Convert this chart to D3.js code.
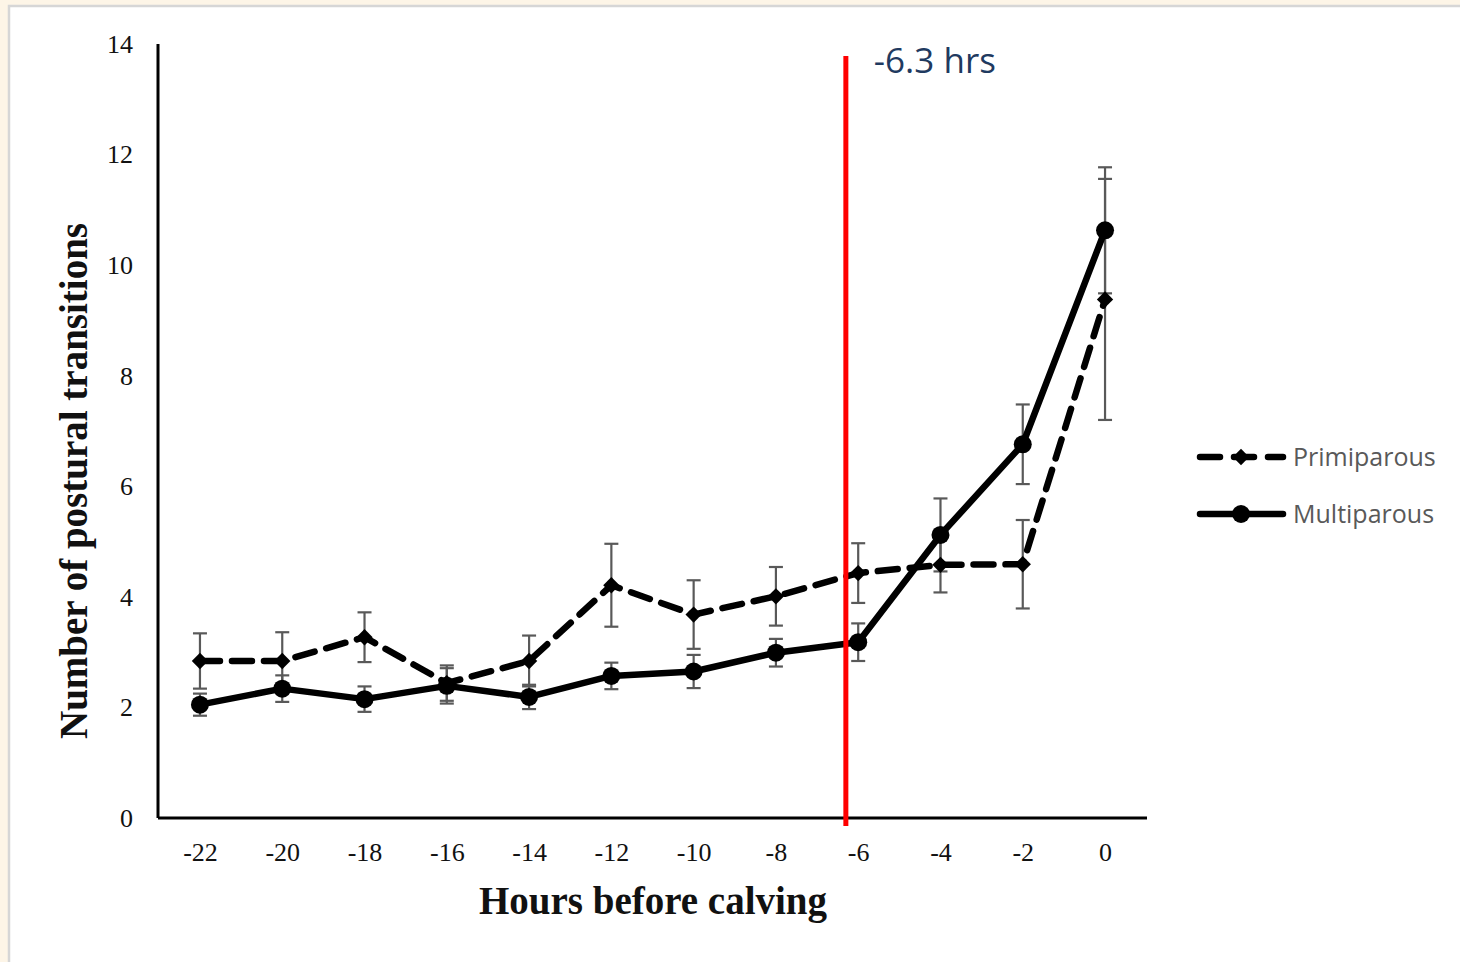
<!DOCTYPE html>
<html>
<head>
<meta charset="utf-8">
<script src="https://cdn.jsdelivr.net/npm/d3@7"></script>
<style>
  html, body { margin: 0; padding: 0; background: #fdf5e7; }
  svg { display: block; }
  .tick text { font-family: "Liberation Serif", "Times New Roman", serif; font-size: 26px; fill: #111; }
  .axisTitle { font-family: "Liberation Serif", "Times New Roman", serif; font-weight: bold; fill: #111; }
  .legendText { font-family: "Open Sans", "Noto Sans", sans-serif; font-size: 25px; fill: #595959; }
</style>
</head>
<body>
<div id="chart"></div>
<script>
// data
var hours = [-22, -20, -18, -16, -14, -12, -10, -8, -6, -4, -2, 0];
var primiparous = [2.84, 2.84, 3.27, 2.44, 2.84, 4.21, 3.68, 4.01, 4.43, 4.58, 4.59, 9.38];
var primiparousErr = [0.50, 0.52, 0.45, 0.32, 0.46, 0.75, 0.62, 0.53, 0.54, 0.50, 0.80, 2.18];
var multiparous = [2.05, 2.34, 2.15, 2.39, 2.19, 2.57, 2.65, 2.99, 3.18, 5.12, 6.76, 10.63];
var multiparousErr = [0.20, 0.24, 0.23, 0.32, 0.22, 0.24, 0.30, 0.25, 0.34, 0.66, 0.72, 1.14];
var yTicks = [0, 2, 4, 6, 8, 10, 12, 14];
var cutoff = -6.3;

var svgWidth = 1460;
var svgHeight = 962;

var svg = d3.select("#chart")
  .append("svg")
  .attr("width", svgWidth)
  .attr("height", svgHeight);

// white panel with a thin grey frame
svg.append("rect")
  .attr("x", 9).attr("y", 6)
  .attr("width", svgWidth).attr("height", svgHeight)
  .attr("fill", "#fff")
  .attr("stroke", "#d6d6d6")
  .attr("stroke-width", 2.5);

var x = d3.scaleLinear().domain([-23.02, 1.02]).range([158, 1147]);
var y = d3.scaleLinear().domain([0, 14]).range([818, 44]);

// axes (no tick marks, only labels)
var xAxis = svg.append("g")
  .attr("transform", "translate(0,818)")
  .call(d3.axisBottom(x).tickValues(hours).tickSize(0).tickPadding(20).tickFormat(d3.format("d")));
xAxis.select(".domain").attr("stroke", "#000").attr("stroke-width", 3).attr("d", "M158,0H1147");
xAxis.selectAll(".tick text").attr("dy", "0.9em").text(d => d < 0 ? "-" + Math.abs(d) : d);

var yAxis = svg.append("g")
  .attr("transform", "translate(158,0)")
  .call(d3.axisLeft(y).tickValues(yTicks).tickSize(0).tickPadding(25));
yAxis.select(".domain").attr("stroke", "#000").attr("stroke-width", 3).attr("d", "M0,44V818");

var lineGen = d3.line()
  .x((d, i) => x(hours[i]))
  .y(d => y(d));

// error bars
function errorBars(values, errs) {
  var g = svg.append("g").attr("stroke", "#595959").attr("stroke-width", 2.2).attr("fill", "none");
  values.forEach(function(v, i) {
    var cx = x(hours[i]);
    g.append("line").attr("x1", cx).attr("x2", cx).attr("y1", y(v - errs[i])).attr("y2", y(v + errs[i]));
    [v - errs[i], v + errs[i]].forEach(function(e) {
      g.append("line").attr("x1", cx - 7).attr("x2", cx + 7).attr("y1", y(e)).attr("y2", y(e));
    });
  });
}
errorBars(primiparous, primiparousErr);
errorBars(multiparous, multiparousErr);

// primiparous: dashed with diamonds
svg.append("path")
  .datum(primiparous)
  .attr("d", lineGen)
  .attr("fill", "none")
  .attr("stroke", "#000")
  .attr("stroke-width", 6.5)
  .attr("stroke-dasharray", "20,12")
  .attr("stroke-linecap", "round");

var diamond = d3.symbol().type(d3.symbolDiamond2).size(170);
svg.selectAll(".prim")
  .data(primiparous)
  .enter()
  .append("path")
  .attr("class", "prim")
  .attr("d", diamond)
  .attr("transform", (d, i) => `translate(${x(hours[i])},${y(d)})`)
  .attr("fill", "#000");

// multiparous: solid with circles
svg.append("path")
  .datum(multiparous)
  .attr("d", lineGen)
  .attr("fill", "none")
  .attr("stroke", "#000")
  .attr("stroke-width", 6.5)
  .attr("stroke-linejoin", "round");

svg.selectAll(".multi")
  .data(multiparous)
  .enter()
  .append("circle")
  .attr("class", "multi")
  .attr("cx", (d, i) => x(hours[i]))
  .attr("cy", d => y(d))
  .attr("r", 9)
  .attr("fill", "#000");

// red cutoff line
svg.append("line")
  .attr("x1", x(cutoff)).attr("x2", x(cutoff))
  .attr("y1", 56).attr("y2", 826)
  .attr("stroke", "#ff0000")
  .attr("stroke-width", 5);

svg.append("text")
  .attr("x", x(cutoff) + 28)
  .attr("y", 73)
  .attr("font-family", "'Open Sans', 'Noto Sans', sans-serif")
  .attr("font-size", 35)
  .attr("fill", "#1f3a60")
  .text(cutoff + " hrs");

// axis titles
svg.append("text")
  .attr("class", "axisTitle")
  .attr("x", 653)
  .attr("y", 914)
  .attr("text-anchor", "middle")
  .attr("font-size", 39)
  .text("Hours before calving");

svg.append("text")
  .attr("class", "axisTitle")
  .attr("transform", "translate(87,481) rotate(-90)")
  .attr("text-anchor", "middle")
  .attr("font-size", 39)
  .text("Number of postural transitions");

// legend
var legend = svg.append("g").attr("transform", "translate(1197,0)");
legend.append("line")
  .attr("x1", 3).attr("x2", 86).attr("y1", 457).attr("y2", 457)
  .attr("stroke", "#000").attr("stroke-width", 6.5)
  .attr("stroke-dasharray", "20,14").attr("stroke-linecap", "round");
legend.append("path")
  .attr("d", diamond)
  .attr("transform", "translate(44,457)")
  .attr("fill", "#000");
legend.append("line")
  .attr("x1", 3).attr("x2", 86).attr("y1", 514).attr("y2", 514)
  .attr("stroke", "#000").attr("stroke-width", 6.5).attr("stroke-linecap", "round");
legend.append("circle")
  .attr("cx", 44).attr("cy", 514).attr("r", 9).attr("fill", "#000");
legend.append("text").attr("class", "legendText").attr("x", 96).attr("y", 466).text("Primiparous");
legend.append("text").attr("class", "legendText").attr("x", 96).attr("y", 523).text("Multiparous");
</script>
</body>
</html>
